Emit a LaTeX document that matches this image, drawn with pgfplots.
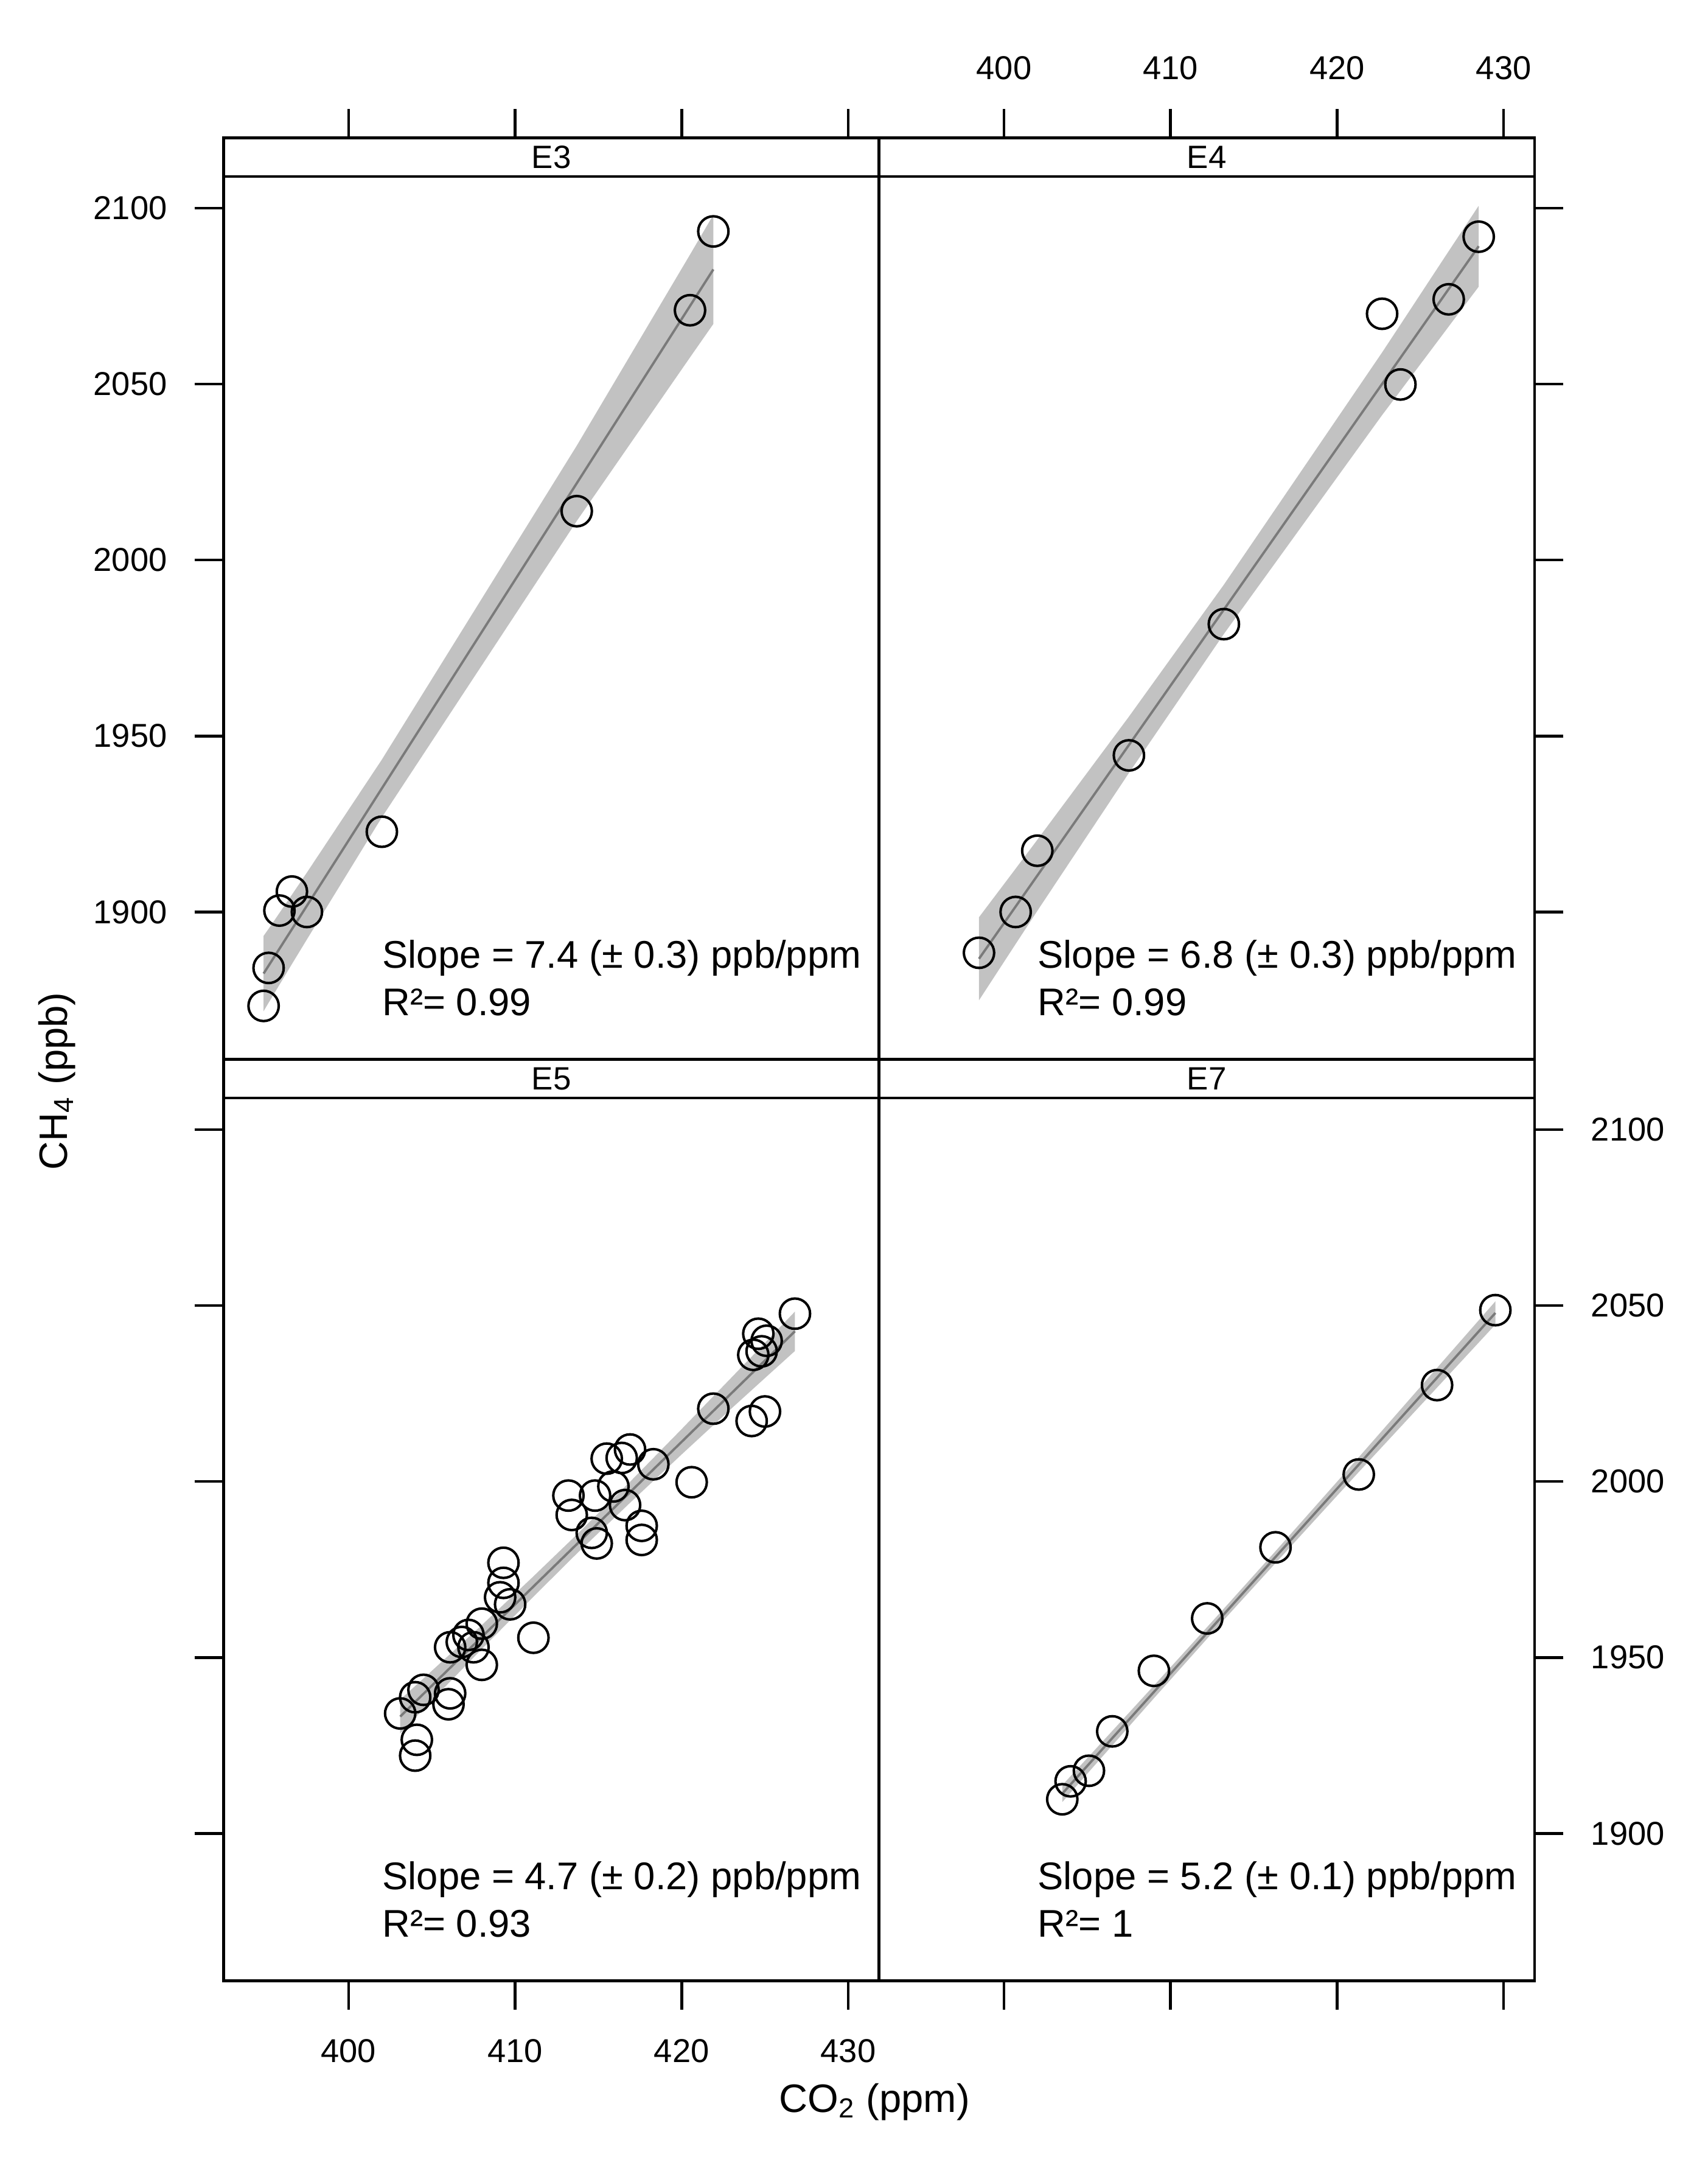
\documentclass[border=0pt]{standalone}
\usepackage{fontspec}
\setmainfont{Liberation Sans}
\usepackage{pgfplots}
\pgfplotsset{compat=1.18}
\definecolor{bandgray}{gray}{0.76}
\definecolor{linegray}{gray}{0.48}
\pgfplotsset{
 common/.style={scale only axis, width=238pt, xmin=392.5, xmax=431.85,
   axis line style={line width=1pt}, tick style={black, line width=1pt},
   tick align=outside, major tick length=10.5pt,
   ticklabel style={font=\fontsize{12}{14}\selectfont},
   xticklabel shift=7.2pt, yticklabel shift=6.5pt,
   /pgf/number format/assume math mode=true, /pgf/number format/1000 sep={},
   scaled ticks=false, anchor=south west},
 panel/.style={common, height=320.5pt, ymin=1858.1, ymax=2109,
   xtick={400,410,420,430}, ytick={1900,1950,2000,2050,2100}},
 strip/.style={common, height=14pt, ymin=0, ymax=1, ytick=\empty},
 band/.style={fill=bandgray, draw=none, forget plot},
 fit/.style={linegray, line width=0.85pt, forget plot},
 pts/.style={only marks, mark=o, mark size=5.5pt, mark options={black, line width=0.9pt}, black},
}
\tikzset{
 ann/.style={anchor=base west, inner sep=0pt, font=\fontsize{14}{17}\selectfont},
 striplab/.style={font=\fontsize{11.7}{14}\selectfont},
}
\begin{document}
\begin{tikzpicture}
\useasboundingbox (0,0) rectangle (620pt,783.05pt);
% ---------------- E3 ----------------
\begin{axis}[panel, at={(81.2pt,398.45pt)}, xtick=\empty, ytick pos=left, yticklabel pos=left]
\addplot[band] coordinates {(394.9,1893.2) (395.2,1895.2) (395.85,1899.7) (396.6,1904.9) (397.5,1911.2) (402.0,1943.3) (413.7,2032.5) (420.5,2086.8) (421.9,2098.1)
 (421.9,2067.1) (420.5,2057.6) (413.7,2011.1) (402.0,1926.9) (397.5,1892.2) (396.6,1885.2) (395.85,1879.3) (395.2,1874.2) (394.9,1871.8)} -- cycle;
\addplot[fit] coordinates {(394.9,1882.5) (421.9,2082.6)};
\addplot[pts] coordinates {(421.9,2093.4) (420.5,2071.0) (413.7,2013.9) (402.0,1922.8) (396.6,1905.8) (395.85,1900.4) (397.5,1900.0) (395.2,1884.1) (394.9,1873.3)};
\node[ann] at (axis cs:402,1884.0) {Slope = 7.4 (± 0.3) ppb/ppm};
\node[ann] at (axis cs:402,1870.5) {R²= 0.99};
\end{axis}
\begin{axis}[strip, at={(81.2pt,718.95pt)}, xtick={400,410,420,430}, xtick pos=right, xticklabels={}]
\node[striplab] at (rel axis cs:0.5,0.5) {E3};
\end{axis}
% ---------------- E4 ----------------
\begin{axis}[panel, at={(319.2pt,398.45pt)}, xtick=\empty, ytick pos=right, yticklabels={}]
\addplot[band] coordinates {(398.5,1898.5) (400.7,1912.3) (402.0,1920.5) (407.5,1955.5) (413.2,1993.0) (422.7,2059.0) (423.8,2066.9) (426.7,2087.8) (428.5,2100.7)
 (428.5,2077.7) (426.7,2066.4) (423.8,2048.1) (422.7,2041.2) (413.2,1979.0) (407.5,1939.5) (402.0,1900.3) (400.7,1890.9) (398.5,1874.9)} -- cycle;
\addplot[fit] coordinates {(398.5,1886.7) (428.5,2089.2)};
\addplot[pts] coordinates {(428.5,2091.9) (426.7,2074.1) (422.7,2070.0) (423.8,2049.9) (413.2,1981.8) (407.5,1944.5) (402.0,1917.4) (400.7,1900.0) (398.5,1888.4)};
\node[ann] at (axis cs:402,1884.0) {Slope = 6.8 (± 0.3) ppb/ppm};
\node[ann] at (axis cs:402,1870.5) {R²= 0.99};
\end{axis}
\begin{axis}[strip, at={(319.2pt,718.95pt)}, xtick={400,410,420,430}, xtick pos=right, xticklabel pos=right]
\node[striplab] at (rel axis cs:0.5,0.5) {E4};
\end{axis}
% ---------------- E5 ----------------
\begin{axis}[panel, at={(81.2pt,63.95pt)}, xtick pos=left, xticklabel pos=left, ytick pos=left, yticklabels={}]
\addplot[band] coordinates {(403.1,1938.0) (405,1946.2) (408,1959.2) (411,1972.6) (413.7,1984.9) (417,2000.4) (420,2014.9) (423,2029.6) (425,2039.4) (426.8,2048.3)
 (426.8,2037.1) (425,2029.4) (423,2020.8) (420,2007.7) (417,1994.4) (413.7,1979.5) (411,1966.8) (408,1952.4) (405,1937.8) (403.1,1928.4)} -- cycle;
\addplot[fit] coordinates {(403.1,1933.2) (426.8,2042.7)};
\addplot[pts] coordinates {(426.8,2047.7) (424.6,2042) (425.1,2040) (424.8,2037) (424.3,2036) (421.9,2020.7) (425.0,2019.9) (424.2,2017.2)
 (420.6,1999.8) (418.3,2004.9) (416.9,2009.1) (416.4,2006.7) (415.5,2006.5) (415.9,1998.6) (414.8,1996.0) (416.6,1993.3)
 (413.2,1996.0) (413.4,1990.5) (414.6,1985.4) (414.9,1982.4) (417.6,1987.4) (417.6,1983.4) (409.3,1976.9) (409.3,1971.2)
 (409.1,1967.1) (409.7,1965.1) (411.1,1955.6) (408.0,1959.6) (407.2,1956.4) (406.8,1954.4) (407.5,1952.9) (406.1,1952.9)
 (408.0,1947.9) (404.5,1940.8) (404.0,1938.7) (406.1,1939.8) (406.0,1936.7) (403.1,1934.1) (404.1,1926.6) (404.0,1922.1)};
\node[ann] at (axis cs:402,1884.0) {Slope = 4.7 (± 0.2) ppb/ppm};
\node[ann] at (axis cs:402,1870.5) {R²= 0.93};
\end{axis}
\begin{axis}[strip, at={(81.2pt,384.45pt)}, xtick=\empty]
\node[striplab] at (rel axis cs:0.5,0.5) {E5};
\end{axis}
% ---------------- E7 ----------------
\begin{axis}[panel, at={(319.2pt,63.95pt)}, xtick pos=left, xticklabels={}, ytick pos=right, yticklabel pos=right]
\addplot[band] coordinates {(403.5,1913.7) (405.1,1921.9) (409.0,1942.0) (413.3,1964.4) (416.3,1980.2) (421.3,2006.9) (426.0,2032.3) (429.5,2051.2)
 (429.5,2044.6) (426.0,2026.7) (421.3,2002.7) (416.3,1976.8) (413.3,1961.2) (409.0,1938.4) (405.1,1917.5) (403.5,1908.9)} -- cycle;
\addplot[fit] coordinates {(403.5,1911.3) (429.5,2047.9)};
\addplot[pts] coordinates {(429.5,2048.7) (426.0,2027.4) (421.3,2002.0) (416.3,1981.3) (412.2,1961.1) (409.0,1946.2) (406.5,1929.0) (405.1,1917.8) (404.0,1914.8) (403.5,1909.7)};
\node[ann] at (axis cs:402,1884.0) {Slope = 5.2 (± 0.1) ppb/ppm};
\node[ann] at (axis cs:402,1870.5) {R²= 1};
\end{axis}
\begin{axis}[strip, at={(319.2pt,384.45pt)}, xtick=\empty]
\node[striplab] at (rel axis cs:0.5,0.5) {E7};
\end{axis}
% axis titles
\node[anchor=base, font=\fontsize{14.4}{17}\selectfont] at (317.5pt,16.35pt) {CO\textsubscript{2} (ppm)};
\node[anchor=base, rotate=90, font=\fontsize{14.4}{17}\selectfont] at (24.5pt,390.55pt) {CH\textsubscript{4} (ppb)};
\end{tikzpicture}
\end{document}
